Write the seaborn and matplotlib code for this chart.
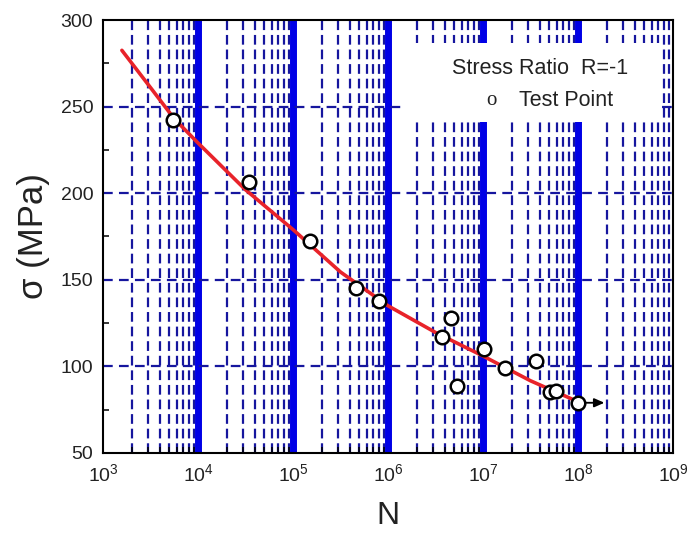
import matplotlib
matplotlib.use("Agg")
import matplotlib.pyplot as plt
import seaborn as sns
import numpy as np
import pandas as pd
from matplotlib.ticker import FixedLocator, MultipleLocator, LogFormatterSciNotation, NullFormatter
from matplotlib.patches import Rectangle

# ---- data ----
test_N = [5.5e3, 3.44e4, 1.51e5, 4.6e5, 8.1e5, 3.73e6, 4.57e6, 5.28e6,
          1.02e7, 1.7e7, 3.6e7, 5.07e7, 5.86e7, 1.0e8]
test_S = [242.3, 206.6, 172.6, 145.1, 137.8, 117.2, 127.8, 88.9,
          109.9, 99.3, 103.3, 85.4, 86.0, 79.0]

fit_N = [1.58e3, 3.16e3, 5.62e3, 1.0e4, 3.16e4, 1.0e5, 3.16e5, 1.0e6,
         3.16e6, 1.0e7, 3.16e7, 1.0e8]
fit_S = [282.5, 261.0, 243.0, 229.0, 202.0, 179.0, 154.5, 135.0,
         119.6, 106.0, 91.7, 79.6]

x_decades = [1e3, 1e4, 1e5, 1e6, 1e7, 1e8, 1e9]
decade_lines = [1e4, 1e5, 1e6, 1e7, 1e8]
minor_mult = [2, 3, 4, 5, 6, 7, 8, 9]
hgrid_levels = [100, 150, 200, 250]

legend_title = "Stress Ratio  R=-1"
legend_entry = "Test Point"

# ---- style ----
sns.set_theme(style="white")
plt.rcParams["font.family"] = ["Liberation Sans", "DejaVu Sans"]
plt.rcParams["mathtext.default"] = "regular"
plt.rcParams["lines.scale_dashes"] = False

navy = "#16169e"
thick_blue = "#0000e6"
txt = "#222222"

fig = plt.figure(figsize=(6.89, 5.35), dpi=100)
fig.patch.set_facecolor("white")
ax = fig.add_axes([0.1495, 0.1533, 0.8273, 0.8093])
ax.set_facecolor("white")

df_fit = pd.DataFrame({"N": fit_N, "S": fit_S})
df_test = pd.DataFrame({"N": test_N, "S": test_S})

sns.lineplot(data=df_fit, x="N", y="S", ax=ax, color="#e8232a", lw=2.6, zorder=3)
sns.scatterplot(data=df_test, x="N", y="S", ax=ax, marker="o", s=95,
                facecolor="white", edgecolor="black", linewidth=1.8, zorder=4)

ax.set_xscale("log")
ax.set_xlim(1e3, 1e9)
ax.set_ylim(50, 300)

minor_ticks = [m * d for d in x_decades[:-1] for m in minor_mult]
ax.xaxis.set_major_locator(FixedLocator(x_decades))
ax.xaxis.set_minor_locator(FixedLocator(minor_ticks))
ax.xaxis.set_major_formatter(LogFormatterSciNotation())
ax.xaxis.set_minor_formatter(NullFormatter())
ax.yaxis.set_major_locator(MultipleLocator(50))
ax.yaxis.set_minor_locator(MultipleLocator(25))

ax.set_axisbelow(True)
ax.grid(False)
ax.grid(which="minor", axis="x", color=navy, lw=1.6, ls=(0, (7, 3.5)))
for d in decade_lines:
    ax.axvline(d, color=thick_blue, lw=5, zorder=1)
for v in hgrid_levels:
    ax.axhline(v, color=navy, lw=1.6, ls=(0, (7, 4.5)), zorder=1)

ax.tick_params(which="both", direction="in", top=False, right=False,
               bottom=True, left=True, colors="black", labelcolor=txt)
ax.tick_params(which="major", length=6, width=1.3, labelsize=14, pad=7)
ax.tick_params(which="minor", length=4, width=1.1)
ax.tick_params(axis="y", which="major", pad=7)

for sp in ax.spines.values():
    sp.set_color("black")
    sp.set_linewidth(1.5)
    sp.set_zorder(5)

ax.set_xlabel("N", fontsize=23, labelpad=12, color=txt)
ax.set_ylabel("σ (MPa)", fontsize=25, labelpad=8, color=txt)

# legend box (white background hiding the grid)
ax.add_patch(Rectangle((0.530, 0.764), 0.451, 0.183, transform=ax.transAxes,
                       facecolor="white", edgecolor="none", zorder=2))
ax.text(0.767, 0.889, legend_title, transform=ax.transAxes, ha="center",
        va="center", fontsize=15.5, color=txt, zorder=3)
ax.text(0.682, 0.815, "o", transform=ax.transAxes, ha="center", va="center",
        fontsize=15, color=txt, family=["Liberation Serif", "DejaVu Serif"], zorder=3)
ax.text(0.730, 0.815, legend_entry, transform=ax.transAxes, ha="left",
        va="center", fontsize=15.5, color=txt, zorder=3)

# run-out arrow on the last test point
ax.annotate("", xy=(test_N[-1], test_S[-1]), xytext=(19, 0),
            textcoords="offset points",
            arrowprops=dict(arrowstyle="<|-,head_length=0.5,head_width=0.22",
                            color="black", lw=1.3, shrinkA=0, shrinkB=5),
            zorder=5)

fig.savefig("out.png", dpi=100, facecolor="white")
